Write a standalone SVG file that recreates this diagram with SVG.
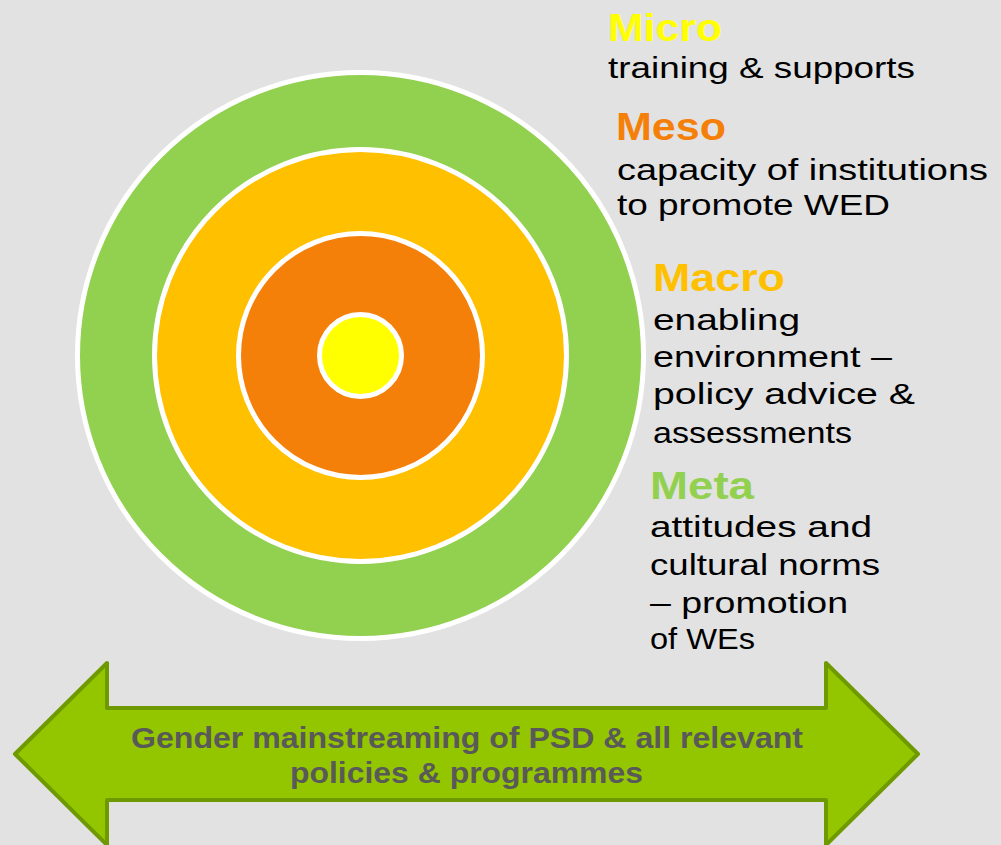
<svg xmlns="http://www.w3.org/2000/svg" width="1001" height="845" viewBox="0 0 1001 845">
  <defs>
    <style>
      .ring { stroke: #ffffff; stroke-width: 5; }
      .head { font-family: "Liberation Sans", Arial, sans-serif; font-weight: bold; font-size: 39px; }
      .body { font-family: "Liberation Sans", Arial, sans-serif; font-size: 30px; fill: #000000; }
      .arrowtxt { font-family: "Liberation Sans", Arial, sans-serif; font-weight: bold; font-size: 29px; fill: #595959; }
    </style>
  </defs>
  <rect x="0" y="0" width="1001" height="845" fill="#e2e2e2"/>

  <g id="circles">
    <circle id="meta-ring" class="ring" cx="360.5" cy="355.5" r="283" fill="#92d050"/>
    <circle id="macro-ring" class="ring" cx="360.5" cy="355.5" r="206" fill="#ffc000"/>
    <circle id="meso-ring" class="ring" cx="360.5" cy="355.5" r="122" fill="#f58009"/>
    <circle id="micro-ring" class="ring" cx="360.5" cy="355.5" r="41" fill="#ffff00"/>
  </g>

  <g id="micro-label">
    <text class="head" x="608" y="41" fill="#ffff00" font-size="42" textLength="114" lengthAdjust="spacingAndGlyphs">Micro</text>
    <text class="body" x="608" y="78" textLength="307" lengthAdjust="spacingAndGlyphs">training &amp; supports</text>
  </g>

  <g id="meso-label">
    <text class="head" x="616" y="140" fill="#f58009" textLength="110" lengthAdjust="spacingAndGlyphs">Meso</text>
    <text class="body" x="617" y="180" textLength="371" lengthAdjust="spacingAndGlyphs">capacity of institutions</text>
    <text class="body" x="617" y="215" textLength="273" lengthAdjust="spacingAndGlyphs">to promote WED</text>
  </g>

  <g id="macro-label">
    <text class="head" x="653" y="291" fill="#ffc000" textLength="132" lengthAdjust="spacingAndGlyphs">Macro</text>
    <text class="body" x="653" y="330" textLength="147" lengthAdjust="spacingAndGlyphs">enabling</text>
    <text class="body" x="653" y="367" textLength="239" lengthAdjust="spacingAndGlyphs">environment –</text>
    <text class="body" x="653" y="404" textLength="262" lengthAdjust="spacingAndGlyphs">policy advice &amp;</text>
    <text class="body" x="653" y="443" textLength="199" lengthAdjust="spacingAndGlyphs">assessments</text>
  </g>

  <g id="meta-label">
    <text class="head" x="650" y="499" fill="#92d050" textLength="104" lengthAdjust="spacingAndGlyphs">Meta</text>
    <text class="body" x="650" y="537" textLength="222" lengthAdjust="spacingAndGlyphs">attitudes and</text>
    <text class="body" x="650" y="575" textLength="230" lengthAdjust="spacingAndGlyphs">cultural norms</text>
    <text class="body" x="650" y="613" textLength="198" lengthAdjust="spacingAndGlyphs">– promotion</text>
    <text class="body" x="650" y="649" textLength="105" lengthAdjust="spacingAndGlyphs">of WEs</text>
  </g>

  <g id="connectors">
    <g id="gender-arrow">
      <polygon points="15,754 107,663 107,708 826,708 826,663 918,754 826,845 826,800 107,800 107,845" fill="#94c600" stroke="#6e9a00" stroke-width="4" stroke-linejoin="round"/>
      <text class="arrowtxt" x="131" y="748" textLength="672" lengthAdjust="spacingAndGlyphs">Gender mainstreaming of PSD &amp; all relevant</text>
      <text class="arrowtxt" x="290" y="783" textLength="353" lengthAdjust="spacingAndGlyphs">policies &amp; programmes</text>
    </g>
  </g>
</svg>
